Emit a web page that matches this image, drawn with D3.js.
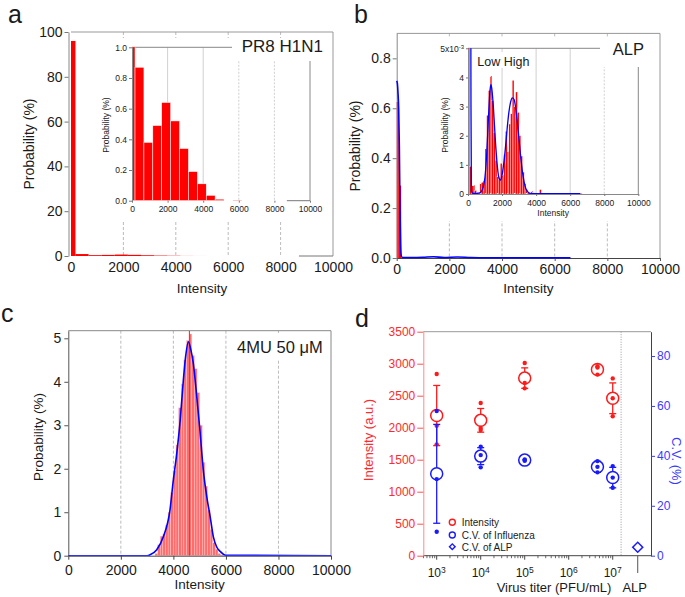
<!DOCTYPE html>
<html><head><meta charset="utf-8">
<script src="https://cdn.jsdelivr.net/npm/d3@7"></script>
<style>body{margin:0;background:#fff}svg{display:block}</style>
</head><body><script>
const FONT="'Liberation Sans', Arial, Helvetica, sans-serif";
// ================= DATA =================
const intensityTicks=[0,2000,4000,6000,8000,10000];
const gridTicks=[2000,4000,6000,8000];
const axisStubFrom=8700;

// panel a : PR8 H1N1 histogram (same bins in main and inset)
const aBinStart=[0,170,670,1170,1670,2170,2670,3170,3670,4170,4670,5670];
const aBinEnd=[170,670,1170,1670,2170,2670,3170,3670,4170,4670,5170,6170];
const aProb=[96,0.87,0.38,0.49,0.64,0.52,0.34,0.19,0.11,0.035,0.01,0.003];
const aYTicks=[0,20,40,60,80,100];
const aInsetYTicks=[0,0.2,0.4,0.6,0.8,1.0];

// panel b : ALP
const bBinStart=[0,80];
const bBinEnd=[80,170];
const bProb=[0.625,0.29];
const bFitX=[0,25,50,75,100,125,150,175,220,600,1000,1400,1800,2300,2800,3500,6600];
const bFitY=[0.71,0.70,0.66,0.60,0.45,0.20,0.05,0.008,0.002,0.002,0.003,0.005,0.002,0.004,0.002,0.001,0.001];
const bYTicks=[0,0.2,0.4,0.6,0.8];
const bInsetBinWidth=100;
const bInsetBinStart=[0,100,200,300,400,500,600,700,800,900,1000,1100,1200,1300,1400,1500,1600,1700,1800,1900,2000,2100,2200,2300,2400,2500,2600,2700,2800,2900,3000,3100,3200,3300,3400,3500,3600,3700,3800,3900,4000,4100,4200,4300,4400,4500,4600,4700,4800,4900,5000,5100,5200,5300,5400,5500,5600,5700,5800,5900,6000,6100,6200,6300,6400,6500,6600];
const bInsetProb=[12,0.94,0.28,0.30,0.12,0.05,0.06,0.38,0.40,0.45,1.55,2.70,3.55,4.05,3.20,2.10,1.15,0.60,0.50,1.05,0.65,1.35,2.15,1.45,2.40,2.75,3.90,3.00,3.50,2.80,2.00,1.30,0.75,0.35,0.15,0.06,0.03,0.10,0.04,0.02,0.02,0.02,0.15,0.03,0.02,0.02,0.01,0.02,0.01,0.02,0.01,0.02,0.01,0.02,0.01,0.02,0.01,0.02,0.01,0.02,0.01,0.02,0.01,0.02,0.01,0.02,0.02];
const bInsetFitX=[0,150,175,200,300,500,700,800,900,1000,1100,1200,1300,1350,1400,1500,1600,1700,1800,1900,2000,2100,2200,2300,2400,2500,2600,2700,2800,2900,3000,3100,3200,3300,3400,3500,3600,3800,4500,6600];
const bInsetFitY=[12,10,3,0.1,0.02,0.02,0.04,0.1,0.25,0.6,1.4,2.6,3.6,3.75,3.6,2.9,1.9,1.1,0.6,0.48,0.65,1.05,1.6,2.25,2.8,3.15,3.3,3.25,2.95,2.45,1.85,1.25,0.75,0.4,0.18,0.08,0.03,0.01,0.01,0.01];
const bInsetYTicks=[0,1,2,3,4,5];

// panel c : 4MU 50 uM
const cBinWidth=100;
const cBinStart=[3300,3400,3500,3600,3700,3800,3900,4000,4100,4200,4300,4400,4500,4600,4700,4800,4900,5000,5100,5200,5300,5400,5500,5600,5700,5800];
const cProb=[0.05,0.25,0.45,0.5,0.7,1.0,1.45,1.95,2.55,3.4,3.95,4.5,4.95,5.1,4.6,4.3,3.75,3.0,2.15,1.6,1.05,0.6,0.3,0.15,0.05,0.02];
const cPeakMarker=[4610];
const cFitX=[0,3000,3110,3360,3620,3870,4000,4130,4260,4380,4470,4570,4660,4760,4890,5010,5140,5270,5400,5520,5650,5780,6000,10000];
const cFitY=[0,0,0.02,0.13,0.44,1.05,1.75,2.36,3.12,4.04,4.6,4.92,4.75,4.42,3.66,2.89,1.97,1.36,0.9,0.44,0.2,0.1,0.01,0];
const cYTicks=[0,1,2,3,4,5];

// panel d : virus titer
const titers=[1e3,1e4,1e5,4.5e6,1e7];
const titerExps=[3,4,5,6,7];
const intMean=[2190,2115,2775,2910,2460];
const intSD=[470,185,160,50,240];
const intDots=[[2840,2030,1740],[2385,1995,1965],[3010,2700,2615],[2960,2940,2830],[2770,2460,2180]];
const cvMean=[32.8,39.9,38.3,35.6,31.3];
const cvSD=[19.8,3.4,0.5,2.2,4.1];
const cvDots=[[58.0,30.7,9.6],[43.7,40.3,35.4],[38.6,38.3,38.0],[37.9,35.6,33.4],[35.9,31.3,27.2]];
const alpTiter=3.7e7;
const alpCV=3.4;
const dSeparator=1.55e7;
const dIntTicks=[0,500,1000,1500,2000,2500,3000,3500];
const dCVTicks=[0,20,40,60,80];
const legendLabels=["Intensity","C.V. of Influenza","C.V. of ALP"];

// ================= HELPERS =================
const fmtInt=d3.format("d"), fmt1=d3.format(".1f");
const svg=d3.select("body").append("svg").attr("width",685).attr("height",597).attr("font-family",FONT);
svg.append("rect").attr("width",685).attr("height",597).attr("fill","#fff");
const defs=svg.append("defs");
let clipN=0;
function clip(x0,y0,x1,y1){const id="cl"+(clipN++);defs.append("clipPath").attr("id",id).append("rect").attr("x",x0).attr("y",y0).attr("width",x1-x0).attr("height",y1-y0);return `url(#${id})`;}
function text(x,y,str,o={}){const t=svg.append("text").attr("x",x).attr("y",y).text(str).attr("font-size",o.size||13).attr("fill",o.fill||"#1a1a1a").attr("text-anchor",o.anchor||"start");if(o.rotate!=null)t.attr("transform",`rotate(${o.rotate},${x},${y})`);return t;}
function rect(x0,y0,x1,y1,fill){svg.append("rect").attr("x",x0).attr("y",y0).attr("width",x1-x0).attr("height",y1-y0).attr("fill",fill);}
function hLine(x0,x1,y,color,w){svg.append("line").attr("x1",x0).attr("x2",x1).attr("y1",y).attr("y2",y).attr("stroke",color).attr("stroke-width",w||1);}
function vLine(x,y0,y1,color,w,dash){svg.append("line").attr("x1",x).attr("x2",x).attr("y1",y0).attr("y2",y1).attr("stroke",color).attr("stroke-width",w||1).attr("stroke-dasharray",dash||null);}
function vGrid(x,vals,y1,y2,dash,color,w){svg.append("g").selectAll("line").data(vals).join("line").attr("x1",d=>x(d)).attr("x2",d=>x(d)).attr("y1",y1).attr("y2",y2).attr("stroke",color).attr("stroke-width",w||0.8).attr("stroke-dasharray",dash||null);}
function frameTR(x0,x1,y0,y1,color){svg.append("path").attr("d",`M${x0},${y0}H${x1}V${y1}`).attr("fill","none").attr("stroke",color).attr("stroke-width",1);}
function drawBars(x,y,starts,ends,vals,o){
  const g=svg.append("g");if(o.clip)g.attr("clip-path",o.clip);
  const endOf=i=>Array.isArray(ends)?ends[i]:starts[i]+ends;
  g.selectAll("rect").data(vals).join("rect")
   .attr("x",(d,i)=>x(starts[i])).attr("width",(d,i)=>Math.max(0,x(endOf(i))-x(starts[i])))
   .attr("y",d=>y(d)).attr("height",d=>y(0)-y(d))
   .attr("fill",o.fill).attr("stroke",o.stroke||"none").attr("stroke-width",o.sw||0);
}
function drawLine(x,y,xs,ys,o){
  const pts=xs.map((v,i)=>[x(v),y(ys[i])]);
  const p=svg.append("path").attr("d",d3.line().curve(d3.curveMonotoneX)(pts)).attr("fill","none").attr("stroke",o.color).attr("stroke-width",o.w||1.5).attr("stroke-linejoin","round");
  if(o.clip)p.attr("clip-path",o.clip);
}
function axis(gen,tx,ty,o){
  const g=svg.append("g").attr("transform",`translate(${tx},${ty})`).call(gen);
  g.attr("font-family",FONT).attr("font-size",o.size);
  g.selectAll("text").attr("fill",o.textColor||"#1a1a1a");
  g.selectAll(".tick line").attr("stroke",o.tickColor||"#555");
  if(o.noDomain)g.select(".domain").remove();else g.select(".domain").attr("stroke",o.domainColor||"#555");
  return g;
}

// ================= PANEL a =================
const xA=d3.scaleLinear([0,10000],[71,333]);
const yA=d3.scaleLinear([0,100],[256,32]);
vGrid(xA,gridTicks,yA(100),yA(0),"3,2","#aaa");
frameTR(xA(0),xA(10000),yA(100),yA(0),"#999");
drawBars(xA,yA,aBinStart,aBinEnd,aProb,{fill:"#ff0000"});
hLine(xA(axisStubFrom),xA(10000),yA(0),"#777");
axis(d3.axisLeft(yA).tickValues(aYTicks).tickFormat(fmtInt).tickSize(4).tickPadding(2).tickSizeOuter(0),68.5,0,{size:14,domainColor:"#888",tickColor:"#777"});
axis(d3.axisBottom(xA).tickValues(intensityTicks).tickFormat(fmtInt).tickSize(0).tickPadding(6),0,yA(0),{size:14,noDomain:true});
text(xA(5000),293,"Intensity",{size:13.5,anchor:"middle"});
text(34,144,"Probability (%)",{size:14,anchor:"middle",rotate:-90});
text(8,23,"a",{size:25});
// inset a
rect(95,38,332,222,"#fff");
const xAi=d3.scaleLinear([0,10000],[132,310]);
const yAi=d3.scaleLinear([0,1],[200.7,47.3]);
vGrid(xAi,[2000,4000],yAi(1),yAi(0),null,"#c4c4c4");
vGrid(xAi,[6000,8000],yAi(1),yAi(0),"2,1.5","#c4c4c4");
frameTR(xAi(0),xAi(10000),yAi(1),yAi(0),"#888");
drawBars(xAi,yAi,aBinStart,aBinEnd,aProb,{fill:"#ff0000",stroke:"#fff",sw:0.5,clip:clip(xAi(0),yAi(1),xAi(10000),yAi(0))});
hLine(xAi(axisStubFrom),xAi(10000),yAi(0),"#777");
axis(d3.axisLeft(yAi).tickValues(aInsetYTicks).tickFormat(fmt1).tickSize(3).tickPadding(2).tickSizeOuter(0),xAi(0),0,{size:8.5,domainColor:"#888",tickColor:"#777"});
axis(d3.axisBottom(xAi).tickValues(intensityTicks).tickFormat(fmtInt).tickSize(2).tickPadding(3),0,yAi(0),{size:8.5,noDomain:true,tickColor:"#777"});
text(109,125,"Probability (%)",{size:8.5,anchor:"middle",rotate:-90});
rect(232,39,331,61,"#fff");
text(323,52.3,"PR8 H1N1",{size:17,anchor:"end"});

// ================= PANEL b =================
const xB=d3.scaleLinear([0,10000],[396.7,660]);
const yB=d3.scaleLinear([0,0.9],[258,33.4]);
vGrid(xB,gridTicks,yB(0.9),yB(0),"3,2","#aaa");
frameTR(xB(0),xB(10000),yB(0.9),yB(0),"#999");
drawBars(xB,yB,bBinStart,bBinEnd,bProb,{fill:"#ff0000"});
axis(d3.axisLeft(yB).tickValues(bYTicks).tickFormat(fmt1).tickSize(4).tickPadding(2).tickSizeOuter(0),xB(0),0,{size:14,domainColor:"#888",tickColor:"#777"});
axis(d3.axisBottom(xB).tickValues(intensityTicks).tickFormat(fmtInt).tickSize(3).tickPadding(3).tickSizeOuter(0),0,yB(0),{size:14,domainColor:"#444",tickColor:"#555"});
drawLine(xB,yB,bFitX,bFitY,{color:"#0000ff",w:1.6});
text(xB(5000),293,"Intensity",{size:13.5,anchor:"middle"});
text(360,146,"Probability (%)",{size:14,anchor:"middle",rotate:-90});
text(354,23,"b",{size:25});
// inset b
rect(434,38,659,221,"#fff");
const xBi=d3.scaleLinear([0,10000],[468,638.3]);
const yBi=d3.scaleLinear([0,5],[194,48.3]);
vGrid(xBi,[2000,4000,6000],yBi(5),yBi(0),null,"#c4c4c4");
vGrid(xBi,[8000],yBi(5),yBi(0),"2,1.5","#c4c4c4");
frameTR(xBi(0),xBi(10000),yBi(5),yBi(0),"#888");
const clipBi=clip(xBi(0),yBi(5),xBi(10000),yBi(0));
drawBars(xBi,yBi,bInsetBinStart,bInsetBinWidth,bInsetProb,{fill:"#ff0000",stroke:"#fff",sw:0.25,clip:clipBi});
const gBiY=axis(d3.axisLeft(yBi).tickValues(bInsetYTicks).tickFormat(fmtInt).tickSize(2).tickPadding(2).tickSizeOuter(0),xBi(0),0,{size:8.5,domainColor:"#888",tickColor:"#777"});
gBiY.selectAll(".tick text").filter(d=>d===5).text("5x10").append("tspan").attr("dy","-0.45em").attr("font-size","6px").text("-3");
axis(d3.axisBottom(xBi).tickValues(intensityTicks).tickFormat(fmtInt).tickSize(2).tickPadding(4).tickSizeOuter(0),0,yBi(0),{size:8.5,domainColor:"#888",tickColor:"#777"});
drawLine(xBi,yBi,bInsetFitX,bInsetFitY,{color:"#0000ff",w:1.3,clip:clipBi});
text(xBi(5000),215.5,"Intensity",{size:8.5,anchor:"middle"});
text(447.5,125,"Probability (%)",{size:8.5,anchor:"middle",rotate:-90});
rect(474,52,531,68,"#fff");
text(477.3,65.5,"Low High",{size:12.5});
rect(600,39,659,67,"#fff");
text(644,55,"ALP",{size:16.5,anchor:"end"});

// ================= PANEL c =================
const xC=d3.scaleLinear([0,10000],[68.3,331]);
const yC=d3.scaleLinear([0,5.175],[555.7,330.7]);
vGrid(xC,gridTicks,yC(5.175),yC(0),"3,2","#aaa");
frameTR(xC(0),xC(10000),yC(5.175),yC(0),"#888");
const clipC=clip(xC(0),yC(5.175),xC(10000),yC(0));
drawBars(xC,yC,cBinStart,cBinWidth,cProb,{fill:"#ff6c6c",stroke:"#ffd0d0",sw:0.4,clip:clipC});
svg.append("g").attr("clip-path",clipC).selectAll("line").data(cPeakMarker).join("line")
  .attr("x1",d=>xC(d)).attr("x2",d=>xC(d)).attr("y1",yC(0)).attr("y2",yC(5.175)).attr("stroke","#ff2020").attr("stroke-width",1);
axis(d3.axisLeft(yC).tickValues(cYTicks).tickFormat(fmtInt).tickSize(4).tickPadding(3).tickSizeOuter(0),xC(0),0,{size:14,domainColor:"#555",tickColor:"#555"});
axis(d3.axisBottom(xC).tickValues(intensityTicks).tickFormat(fmtInt).tickSize(4).tickPadding(5).tickSizeOuter(0),0,yC(0),{size:14,domainColor:"#444",tickColor:"#444"});
drawLine(xC,yC,cFitX,cFitY,{color:"#0000ff",w:1.6,clip:clipC});
rect(228,333,330,360,"#fff");
text(322.7,353.3,"4MU 50 μM",{size:16.5,anchor:"end"});
text(xC(5000),589,"Intensity",{size:13.5,anchor:"middle"});
text(43,437,"Probability (%)",{size:13.5,anchor:"middle",rotate:-90});
text(1,322,"c",{size:25});

// ================= PANEL d =================
const xD=d3.scaleLog([496,7.41e7],[423.3,651]);
const yL=d3.scaleLinear([0,3500],[555.7,331.7]);
const yR=d3.scaleLinear([0,89.75],[555.7,331.7]);
const RED="#ff1a1a",BLUE="#1a1aff";
hLine(xD.range()[0],xD.range()[1],yL(3500),"#999");
vLine(xD(dSeparator),yL(3500),yL(0),"#999",1,"1,1.5");
// bottom axis
hLine(xD.range()[0],xD.range()[1],yL(0),"#444");
const minor=xD.ticks().filter(v=>v<=dSeparator&&Math.abs(Math.log10(v)-Math.round(Math.log10(v)))>1e-6);
svg.append("g").selectAll("line").data(minor).join("line").attr("x1",d=>xD(d)).attr("x2",d=>xD(d)).attr("y1",yL(0)).attr("y2",yL(0)+2.5).attr("stroke","#444").attr("stroke-width",0.8);
svg.append("g").selectAll("line").data(titerExps).join("line").attr("x1",d=>xD(Math.pow(10,d))).attr("x2",d=>xD(Math.pow(10,d))).attr("y1",yL(0)).attr("y2",yL(0)+4).attr("stroke","#444");
const xl=svg.append("g").selectAll("text").data(titerExps).join("text").attr("x",d=>xD(Math.pow(10,d))).attr("y",577).attr("text-anchor","middle").attr("font-size",12).attr("fill","#1a1a1a");
xl.text("10").append("tspan").attr("dy","-0.45em").attr("font-size","8.5px").text(d=>d);
vLine(xD(alpTiter),yL(0),573,"#555",1);
text(xD(alpTiter)-3,592,"ALP",{size:13,anchor:"middle"});
text(554,592,"Virus titer (PFU/mL)",{size:13,anchor:"middle"});
// y axes
axis(d3.axisLeft(yL).tickValues(dIntTicks).tickFormat(fmtInt).tickSize(6).tickPadding(2).tickSizeOuter(0),xD.range()[0],0,{size:12,textColor:"#ff2a2a",tickColor:"#ff5050",domainColor:"#ff8a8a"});
axis(d3.axisRight(yR).tickValues(dCVTicks).tickFormat(fmtInt).tickSize(4).tickPadding(2).tickSizeOuter(0),xD.range()[1],0,{size:12,textColor:"#3a3aff",tickColor:"#3a3aff",domainColor:"#2a2aff"});
text(373,440,"Intensity (a.u.)",{size:13,anchor:"middle",rotate:-90,fill:"#ff2a2a"});
text(672,461,"C.V. (%)",{size:13,anchor:"middle",rotate:90,fill:"#3a3aff"});
text(355,327,"d",{size:25});
// series
function series(means,sds,dots,y,color){
  const g=svg.append("g");
  titers.forEach((t,i)=>{
    const cx=xD(t),hi=means[i]+sds[i],lo=means[i]-sds[i];
    g.append("line").attr("x1",cx).attr("x2",cx).attr("y1",y(hi)).attr("y2",y(lo)).attr("stroke",color).attr("stroke-width",1.3);
    [hi,lo].forEach(v=>g.append("line").attr("x1",cx-3.5).attr("x2",cx+3.5).attr("y1",y(v)).attr("y2",y(v)).attr("stroke",color).attr("stroke-width",1.3));
    g.append("circle").attr("cx",cx).attr("cy",y(means[i])).attr("r",6).attr("fill","#fff").attr("stroke",color).attr("stroke-width",1.5);
    g.selectAll(null).data(dots[i]).join("circle").attr("cx",cx).attr("cy",v=>y(v)).attr("r",2.2).attr("fill",color);
  });
}
series(intMean,intSD,intDots,yL,RED);
series(cvMean,cvSD,cvDots,yR,BLUE);
svg.append("path").attr("d",d3.symbol(d3.symbolSquare,50)()).attr("transform",`translate(${xD(alpTiter)},${yR(alpCV)}) rotate(45)`).attr("fill","#fff").attr("stroke",BLUE).attr("stroke-width",1.5);
// legend
const legY=[522.3,535,546.7], legX=452.3;
svg.append("circle").attr("cx",legX).attr("cy",legY[0]).attr("r",3).attr("fill","none").attr("stroke",RED).attr("stroke-width",1.4);
svg.append("circle").attr("cx",legX).attr("cy",legY[1]).attr("r",3).attr("fill","none").attr("stroke",BLUE).attr("stroke-width",1.4);
svg.append("path").attr("d",d3.symbol(d3.symbolSquare,16)()).attr("transform",`translate(${legX},${legY[2]}) rotate(45)`).attr("fill","none").attr("stroke",BLUE).attr("stroke-width",1.4);
legendLabels.forEach((l,i)=>text(461.7,legY[i]+3.8,l,{size:10}));
</script></body></html>
